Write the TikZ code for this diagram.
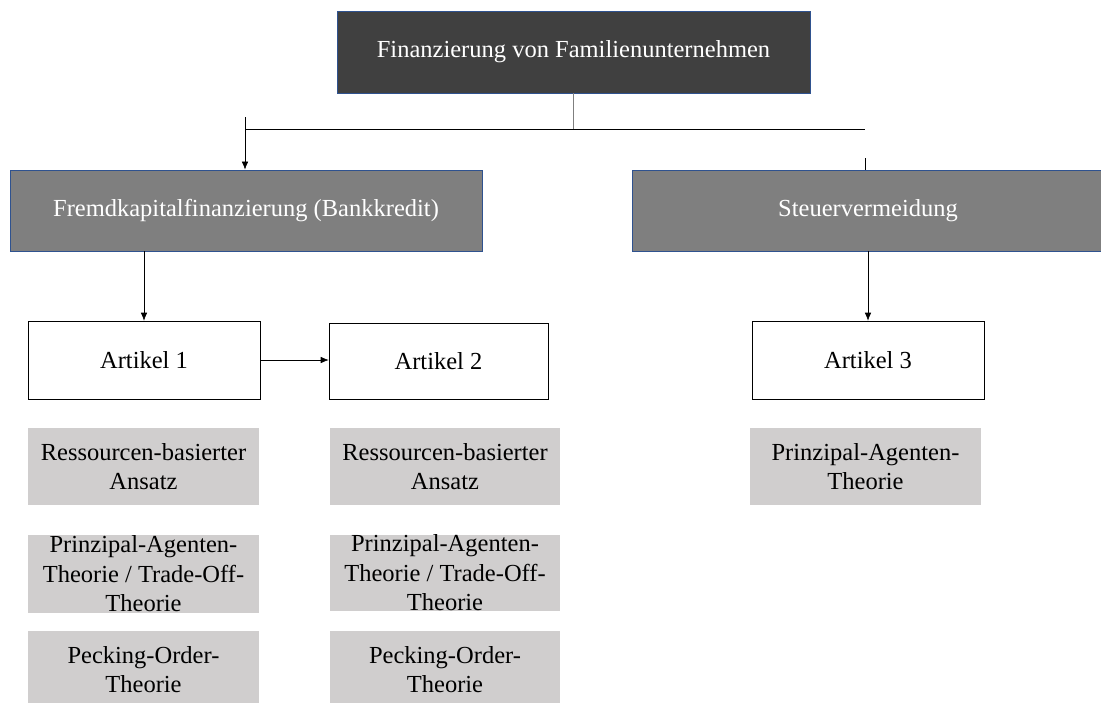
\documentclass[tikz,border=0pt]{standalone}
\usepackage{fontspec}
\setmainfont{Liberation Serif}
\usetikzlibrary{arrows.meta}

\definecolor{topgray}{HTML}{404040}
\definecolor{midgray}{HTML}{7F7F7F}
\definecolor{theorygray}{HTML}{D0CECE}
\definecolor{boxblue}{HTML}{2F528F}

\begin{document}
\begin{tikzpicture}[x = 1pt, y = -1pt,
		font = \fontsize{24.5}{29.5}\selectfont,
		headbox/.style = {draw = boxblue, line width = 0.8pt, fill = topgray, text = white, inner sep = 0pt, minimum width = 473pt, minimum height = 82pt},
		fieldbox/.style = {draw = boxblue, line width = 0.8pt, fill = midgray, text = white, inner sep = 0pt, minimum width = 472pt, minimum height = 81pt},
		articlebox/.style = {draw, line width = 0.6pt, fill = white, inner sep = 0pt, minimum height = 78pt},
		theorybox/.style = {fill = theorygray, align = center, inner sep = 0pt, minimum height = 77pt},
		link/.style = {line width = 0.6pt, -{Latex[length = 8pt, width = 6.5pt]}}]
		
		\useasboundingbox (0, 0) rectangle (1101, 702);
		
		\node[headbox] (top) at (573.5, 52) {Finanzierung von Familienunternehmen};
		\node[fieldbox] (fremd) at (246, 210.5) {Fremdkapitalfinanzierung (Bankkredit)};
		\node[fieldbox] (steuer) at (868, 210.5) {Steuervermeidung};
		
		\node[articlebox, minimum width = 232pt] (art1) at (144, 360) {Artikel 1};
		\node[articlebox, minimum width = 219pt, minimum height = 76pt] (art2) at (438.5, 361) {Artikel 2};
		\node[articlebox, minimum width = 232pt] (art3) at (868, 360) {Artikel 3};
		
		\node[theorybox, minimum width = 231pt] (res1) at (143.5, 466.5) {Ressourcen-basierter\\Ansatz};
		\node[theorybox, minimum width = 231pt, minimum height = 78pt] (pat1) at (143.5, 574) {Prinzipal-Agenten-\\Theorie / Trade-Off-\\Theorie};
		\node[theorybox, minimum width = 231pt] (pot1) at (143.5, 669.5) {Pecking-Order-\\Theorie};
		
		\node[theorybox, minimum width = 230pt] (res2) at (445, 466.5) {Ressourcen-basierter\\Ansatz};
		\node[theorybox, minimum width = 230pt, minimum height = 76pt] (pat2) at (445, 573) {Prinzipal-Agenten-\\Theorie / Trade-Off-\\Theorie};
		\node[theorybox, minimum width = 230pt] (pot2) at (445, 669.5) {Pecking-Order-\\Theorie};
		
		\node[theorybox, minimum width = 231pt] (pat3) at (865.5, 466.5) {Prinzipal-Agenten-\\Theorie};
		
		\coordinate (stub) at (245, 117);
		\coordinate (hleft) at (245, 129);
		\coordinate (hright) at (865, 129);
		\coordinate (rstub) at (865, 158);
		
		\draw[line width = 0.8pt, midgray] (top.south) -- (top.south |- hleft);
		\draw[line width = 0.6pt] (stub) -- (hleft) -- (hright);
		\draw[line width = 0.6pt] (rstub) -- (rstub |- steuer.north);
		\draw[link] (hleft) -- (hleft |- fremd.north);
		
		\draw[link] (art1.north |- fremd.south) -- (art1.north);
		\draw[link] (art1.east) -- (art1.east -| art2.west);
		\draw[link] (steuer.south) -- (art3.north);
		
	\end{tikzpicture}
\end{document}
